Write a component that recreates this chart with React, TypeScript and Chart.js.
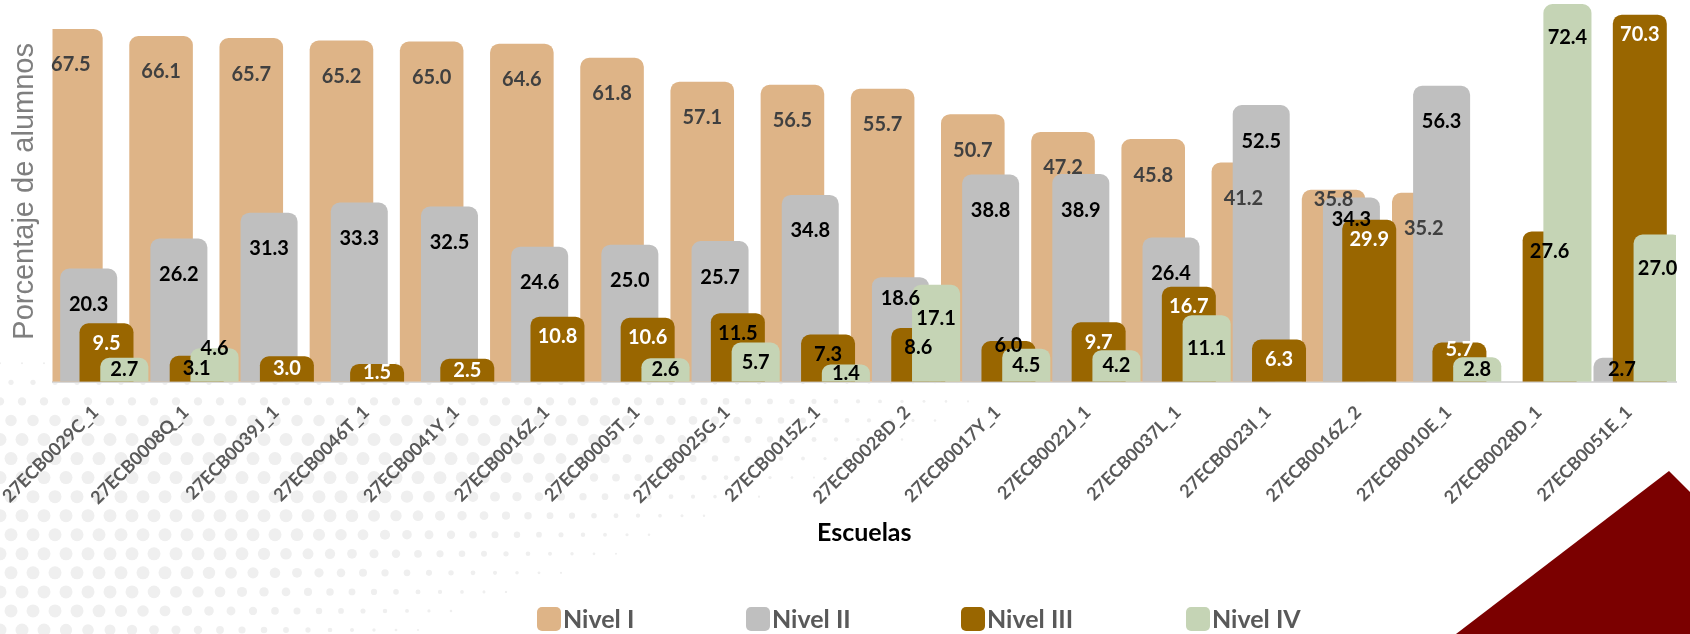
import React, { useEffect, useRef } from "react";
import { Chart, registerables } from "chart.js";

Chart.register(...registerables);

// ---- Data ----
const escuelas = [
  "27ECB0029C_1", "27ECB0008Q_1", "27ECB0039J_1", "27ECB0046T_1", "27ECB0041Y_1",
  "27ECB0016Z_1", "27ECB0005T_1", "27ECB0025G_1", "27ECB0015Z_1", "27ECB0028D_2",
  "27ECB0017Y_1", "27ECB0022J_1", "27ECB0037L_1", "27ECB0023I_1", "27ECB0016Z_2",
  "27ECB0010E_1", "27ECB0028D_1", "27ECB0051E_1",
];
const nivelI = [67.5, 66.1, 65.7, 65.2, 65.0, 64.6, 61.8, 57.1, 56.5, 55.7, 50.7, 47.2, 45.8, 41.2, 35.8, 35.2, null, null];
const nivelII = [20.3, 26.2, 31.3, 33.3, 32.5, 24.6, 25.0, 25.7, 34.8, 18.6, 38.8, 38.9, 26.4, 52.5, 34.3, 56.3, null, 2.7];
const nivelIII = [9.5, 3.1, 3.0, 1.5, 2.5, 10.8, 10.6, 11.5, 7.3, 8.6, 6.0, 9.7, 16.7, 6.3, 29.9, 5.7, 27.6, 70.3];
const nivelIV = [2.7, 4.6, null, null, null, null, 2.6, 5.7, 1.4, 17.1, 4.5, 4.2, 11.1, null, null, 2.8, 72.4, 27.0];
const seriesNames = ["Nivel I", "Nivel II", "Nivel III", "Nivel IV"];
const yMin = -2;
const yMax = 73;

// ---- Styles ----
const COLORS = ["#DEB487", "#BFBFBF", "#996600", "#C5D4B5"];
const LABEL_COLORS = ["#404040", "#000000", "#FFFFFF", "#000000"];
const NIVEL_III_DARK_LABELS = [1, 7, 8, 9, 10, 16];
const BAR_PCT = [3.57, 3.2, 3.03, 2.7];
const LABEL_OFFSET = [36, 36, 20, 34];
const LEGEND_X = [537, 746, 961, 1186];
const FONT = "Lato, 'Liberation Sans', sans-serif";

const backgroundPlugin = {
  id: "bgDeco",
  beforeDraw(chart: any) {
    const ctx = chart.ctx as CanvasRenderingContext2D;
    const w = chart.width;
    const h = chart.height;
    ctx.save();
    ctx.fillStyle = "#FFFFFF";
    ctx.fillRect(0, 0, w, h);
    // halftone dots
    ctx.fillStyle = "#EFEFEF";
    const step = 22;
    for (let row = 0; row < 20; row++) {
      const cy = h - 4 - row * step * 0.866;
      if (cy < 350) break;
      const shift = row % 2 ? step / 2 : 0;
      const xEdge = 480 + (h - cy) * 2.6;
      for (let cx = shift; cx < xEdge; cx += step) {
        const fx = Math.min(1, (xEdge - cx) / 450);
        const fy = Math.min(1, (cy - 350) / 80);
        const r = 6.5 * fx * fy;
        if (r < 1) continue;
        ctx.beginPath();
        ctx.arc(cx, cy, r, 0, Math.PI * 2);
        ctx.fill();
      }
    }
    // red triangle
    ctx.fillStyle = "#7B0000";
    ctx.beginPath();
    ctx.moveTo(1456, h);
    ctx.lineTo(1669, 471);
    ctx.lineTo(w, 492);
    ctx.lineTo(w, h);
    ctx.closePath();
    ctx.fill();
    ctx.restore();
  },
};

const orderPlugin = {
  id: "drawOrder",
  beforeDatasetsDraw(chart: any) {
    const ctx = chart.ctx as CanvasRenderingContext2D;
    const a = chart.chartArea;
    ctx.save();
    ctx.beginPath();
    ctx.rect(a.left, a.top - 20, a.right - a.left, a.bottom - a.top + 20);
    ctx.clip();
    chart.getSortedVisibleDatasetMetas().forEach((m: any) => m.controller.draw());
    ctx.restore();
    return false;
  },
};

const overlayPlugin = {
  id: "overlay",
  afterDraw(chart: any) {
    const ctx = chart.ctx as CanvasRenderingContext2D;
    ctx.save();
    ctx.textAlign = "center";
    ctx.textBaseline = "middle";
    ctx.font = `bold 20px ${FONT}`;
    const metas = chart.getSortedVisibleDatasetMetas();
    const nCat = chart.data.labels.length;
    for (let i = 0; i < nCat; i++) {
      const items: any[] = [];
      metas.forEach((meta: any) => {
        const di = meta.index;
        const v = chart.data.datasets[di].data[i];
        if (v === null || v === undefined) return;
        const el = meta.data[i];
        const { x, y, base } = el.getProps(["x", "y", "base"], true);
        const hgt = base - y;
        const text = Number(v).toFixed(1);
        let color = LABEL_COLORS[di];
        if (di === 2 && NIVEL_III_DARK_LABELS.includes(i)) color = "#000000";
        items.push({ x, cy: Math.min(y + LABEL_OFFSET[di], y + hgt / 2), hgt, text, color, w: ctx.measureText(text).width });
      });
      items.sort((a, b) => a.hgt - b.hgt);
      const placed: any[] = [];
      items.forEach((it) => {
        let moved = true;
        let guard = 0;
        while (moved && guard++ < 6) {
          moved = false;
          for (const p of placed) {
            if (Math.abs(p.x - it.x) < (p.w + it.w) / 2 + 2 && Math.abs(p.cy - it.cy) < 18) {
              it.cy = p.cy - 20;
              moved = true;
            }
          }
        }
        placed.push(it);
      });
      placed.forEach((it) => {
        ctx.fillStyle = it.color;
        ctx.fillText(it.text, it.x, it.cy);
      });
    }
    // legend
    ctx.textAlign = "left";
    ctx.font = `bold 25px ${FONT}`;
    seriesNames.forEach((n, i) => {
      const lx = LEGEND_X[i];
      ctx.fillStyle = COLORS[i];
      ctx.beginPath();
      (ctx as any).roundRect(lx, 607, 24, 24, 5);
      ctx.fill();
      ctx.fillStyle = "#595959";
      ctx.fillText(n, lx + 26, 620);
    });
    ctx.restore();
  },
};

export default function App() {
  const ref = useRef<HTMLCanvasElement>(null);
  useEffect(() => {
    const canvas = ref.current;
    if (!canvas) return;
    const datasets = [nivelI, nivelII, nivelIII, nivelIV].map((d, i) => ({
      label: seriesNames[i],
      data: d,
      backgroundColor: COLORS[i],
      borderWidth: 0,
      borderRadius: 9,
      borderSkipped: "start" as const,
      base: yMin,
      barPercentage: BAR_PCT[i],
      categoryPercentage: 0.79,
    }));
    const chart = new Chart(canvas, {
      type: "bar",
      data: { labels: escuelas, datasets: datasets as any },
      options: {
        responsive: false,
        animation: false,
        devicePixelRatio: 1,
        layout: { padding: { left: 0, right: 14, top: 1, bottom: 82 } },
        plugins: { legend: { display: false }, tooltip: { enabled: false } },
        scales: {
          x: {
            z: 1,
            grid: { display: false, drawTicks: false },
            border: { display: true, color: "#D9D9D9", width: 2 },
            ticks: {
              autoSkip: false,
              minRotation: 45,
              maxRotation: 45,
              padding: 20,
              labelOffset: -2,
              color: "#595959",
              font: { family: FONT, size: 18, weight: "bold" },
            },
            title: {
              display: true,
              text: "Escuelas",
              color: "#000000",
              font: { family: FONT, size: 25, weight: "bold" },
              padding: { top: 0, bottom: 4 },
            },
            afterFit: (s: any) => {
              s.height = 170.3;
              s.paddingLeft = 0;
              s.paddingRight = 0;
            },
          },
          y: {
            min: yMin,
            max: yMax,
            grid: { display: false },
            border: { display: false },
            ticks: { display: false },
            title: {
              display: true,
              text: "Porcentaje de alumnos",
              color: "#7F7F7F",
              font: { family: "'Liberation Sans', Arial, sans-serif", size: 29, weight: "normal" },
              padding: { top: 8, bottom: 0 },
            },
            afterFit: (s: any) => {
              s.width = 52.5;
            },
          },
        },
      } as any,
      plugins: [backgroundPlugin, orderPlugin, overlayPlugin],
    });
    return () => chart.destroy();
  }, []);
  return (
    <div style={{ position: "fixed", left: 0, top: 0, width: 1690, height: 634, background: "#fff" }}>
      <canvas ref={ref} width={1690} height={634} style={{ display: "block" }} />
    </div>
  );
}
